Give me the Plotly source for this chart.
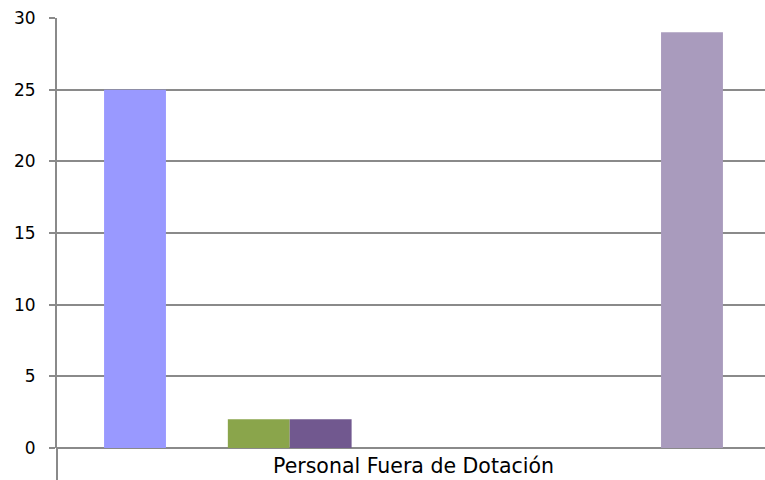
import plotly.graph_objects as go

categories = ["Personal Fuera de Dotación"]
series_names = ["Serie 1", "Serie 2", "Serie 3", "Serie 4", "Serie 5",
                "Serie 6", "Serie 7", "Serie 8", "Serie 9", "Serie 10"]
series_values = [25, 0, 2, 2, 0, 0, 0, 0, 0, 29]
series_colors = ["#9999FF", "#993366", "#8AA54B", "#71588F", "#4BACC6",
                 "#F79646", "#2C4D75", "#772C2A", "#5F7530", "#A99BBD"]
y_ticks = [0, 5, 10, 15, 20, 25, 30]

fig = go.Figure()
for name, val, col in zip(series_names, series_values, series_colors):
    fig.add_trace(go.Bar(x=categories, y=[val], name=name,
                         marker=dict(color=col, line=dict(width=0))))

axis_col = "#8a8a8a"
fig.update_layout(
    width=765, height=480,
    margin=dict(l=57, r=0, t=18, b=32),
    paper_bgcolor="white", plot_bgcolor="white",
    barmode="group", bargap=0.132, bargroupgap=0,
    showlegend=False,
    font=dict(family="DejaVu Sans", size=17, color="#000000"),
    xaxis=dict(range=[-0.5, 0.493], showgrid=False, zeroline=False,
               showline=False, ticks="", automargin=False,
               ticklabelstandoff=3,
               tickfont=dict(family="DejaVu Sans", size=20.5, color="#000000")),
    yaxis=dict(range=[0, 30], tickvals=y_ticks, showgrid=True,
               gridcolor=axis_col, gridwidth=1.5, zeroline=True,
               zerolinecolor=axis_col, zerolinewidth=2, automargin=False,
               showline=True, linecolor=axis_col, linewidth=2,
               ticks="outside", ticklen=6, tickcolor=axis_col, tickwidth=1.5,
               ticklabelstandoff=10,
               tickfont=dict(family="DejaVu Sans", size=17, color="#000000")),
)
fig.add_shape(type="line", xref="paper", yref="paper", x0=0, x1=0,
              y0=0, y1=-32/430, line=dict(color=axis_col, width=2))

fig.write_html("out.html", config={"displayModeBar": False},
               post_script="document.body.style.margin='0';document.body.style.overflow='hidden';")
